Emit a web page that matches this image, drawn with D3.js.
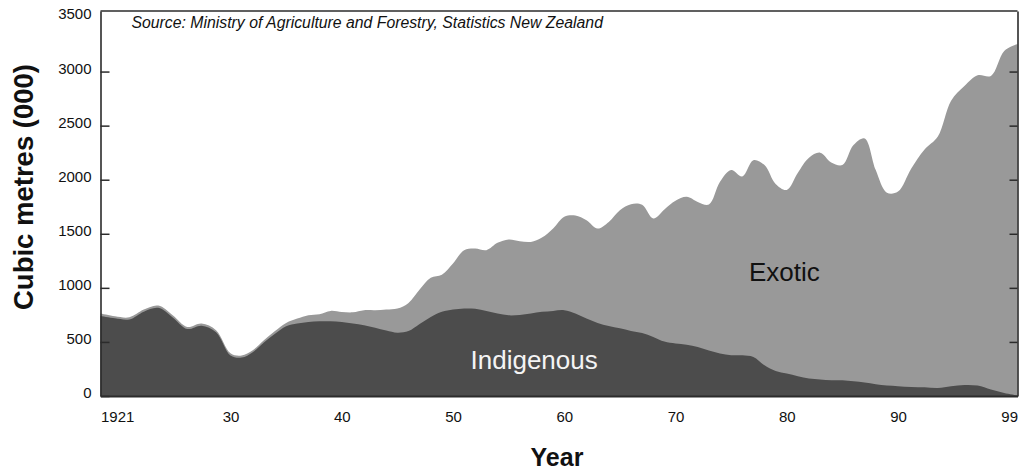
<!DOCTYPE html>
<html><head><meta charset="utf-8">
<script src="https://cdn.jsdelivr.net/npm/d3@7"></script>
<style>
body{margin:0;background:#fff}
svg{display:block;font-family:"Liberation Sans",Arial,Helvetica,sans-serif}
</style>
</head><body>
<svg id="c" width="1019" height="470"></svg>
<script>
// ---- data (thousand cubic metres), 1921–1999 ----
const years = d3.range(1921, 2000);
const indigenous = [
  740,718,708,780,815,727,620,650,590,375,
  355,405,495,575,645,670,685,691,691,685,
  670,654,630,605,585,600,665,730,778,799,
  809,806,787,762,746,750,762,778,787,793,
  762,716,676,648,627,602,583,546,503,485,
  475,454,420,393,377,377,361,284,231,207,
  182,161,152,145,145,136,124,108,96,90,
  83,80,74,90,102,96,59,28,6
];
const exotic = [
  22,19,20,19,21,20,19,20,18,20,
  19,18,20,26,31,46,62,65,96,92,
  104,139,163,194,224,261,320,364,343,426,
  539,558,561,654,701,681,663,687,762,864,
  907,910,873,962,1091,1172,1185,1095,1222,1320,
  1367,1341,1350,1587,1712,1653,1819,1851,1729,1698,
  1882,2042,2098,2015,1990,2184,2258,1981,1784,1800,
  2021,2200,2326,2641,2764,2869,2901,3162,3249
];
const seriesKeys = ["indigenous", "exotic"];
const yTicks = [0, 500, 1000, 1500, 2000, 2500, 3000, 3500];
const yMax = 3560;
const xTickYears = [1921, 1930, 1940, 1950, 1960, 1970, 1980, 1990, 1999];
const xTickLabels = ["1921", "30", "40", "50", "60", "70", "80", "90", "99"];

// ---- layout ----
const svg = d3.select("#c");
const x = d3.scaleLinear()
  .domain([1921, 1930, 1990, 1999])
  .range([100.5, 230.5, 898, 1017.5]);
const y = d3.scaleLinear().domain([0, yMax]).range([396, 11]);

const rows = years.map((yr, i) => ({ year: yr, indigenous: indigenous[i], exotic: exotic[i] }));
const stacked = d3.stack().keys(seriesKeys)(rows);
const colors = { indigenous: "#4c4c4c", exotic: "#999999" };
const curve = d3.curveCatmullRom.alpha(0.5);

// exotic layer (drawn down to baseline to avoid seams), then indigenous on top
const areaExotic = d3.area()
  .x(d => x(d.data.year)).y0(y(0)).y1(d => y(d[1]))
  .curve(curve);
const areaInd = d3.area()
  .x(d => x(d.data.year)).y0(d => y(d[0])).y1(d => y(d[1]))
  .curve(curve);

svg.append("path").datum(stacked[1]).attr("d", areaExotic).attr("fill", colors.exotic);
svg.append("path").datum(stacked[0]).attr("d", areaInd).attr("fill", colors.indigenous);

// ---- axes / frame ----
const axisColor = "#2b2b2b";
const gL = svg.append("g").attr("transform", `translate(${x(1921)},0)`)
  .call(d3.axisLeft(y).tickValues(yTicks).tickFormat(d3.format("d"))
    .tickSize(-9).tickSizeOuter(0).tickPadding(9));
gL.selectAll(".tick").filter(d => d === 3500).select("line").remove();
gL.selectAll(".tick text").attr("dy", "0.1em");

const gR = svg.append("g").attr("transform", `translate(${x(1999)},0)`)
  .call(d3.axisRight(y).tickValues(yTicks).tickSize(-8).tickSizeOuter(0).tickFormat(""));
gR.selectAll(".tick").filter(d => d === 3500 || d === 0).remove();

const gB = svg.append("g").attr("transform", `translate(0,${y(0)})`)
  .call(d3.axisBottom(x).tickValues(xTickYears).tickSize(0).tickPadding(15)
    .tickFormat((d, i) => xTickLabels[i]));
gB.selectAll(".tick text").attr("text-anchor", d => d === 1921 ? "start" : d === 1999 ? "end" : "middle");

[gL, gR, gB].forEach(g => {
  g.attr("font-size", 15).attr("font-family", null);
  g.selectAll("text").attr("fill", "#111");
  g.selectAll("line").attr("stroke", axisColor).attr("stroke-width", 1.5);
  g.select(".domain").attr("stroke", axisColor).attr("stroke-width", 1.6);
});
gB.select(".domain").attr("stroke-width", 2);

svg.append("line")
  .attr("x1", x(1921)).attr("x2", x(1999))
  .attr("y1", y(yMax)).attr("y2", y(yMax))
  .attr("stroke", axisColor).attr("stroke-width", 1.6);

// ---- texts ----
svg.append("text").attr("x", 131.5).attr("y", 28)
  .attr("font-size", 15.8).attr("font-style", "italic").attr("fill", "#111")
  .text("Source: Ministry of Agriculture and Forestry, Statistics New Zealand");

svg.append("text")
  .attr("transform", "translate(33,187) rotate(-90)")
  .attr("text-anchor", "middle").attr("font-size", 27.5).attr("font-weight", "bold").attr("fill", "#111")
  .text("Cubic metres (000)");

svg.append("text").attr("x", 557).attr("y", 466)
  .attr("text-anchor", "middle").attr("font-size", 25).attr("font-weight", "bold").attr("fill", "#111")
  .text("Year");

svg.append("text").attr("x", 470.5).attr("y", 369)
  .attr("font-size", 26).attr("fill", "#f4f4f4")
  .text("Indigenous");

svg.append("text").attr("x", 749).attr("y", 281)
  .attr("font-size", 26).attr("fill", "#111")
  .text("Exotic");
</script>
</body></html>
